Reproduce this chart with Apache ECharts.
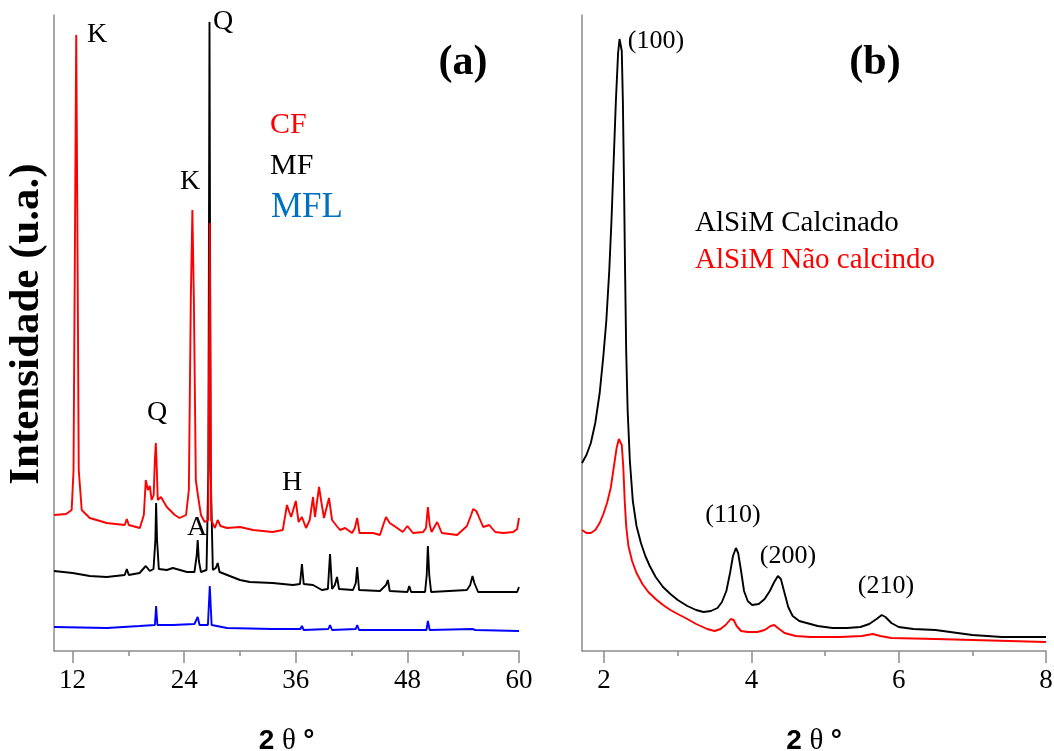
<!DOCTYPE html>
<html>
<head>
<meta charset="utf-8">
<script src="https://cdn.jsdelivr.net/npm/echarts@6/dist/echarts.min.js"></script>
<style>
  html, body { margin: 0; padding: 0; background: #fff; }
  #chart { width: 1054px; height: 751px; }
</style>
</head>
<body>
<div id="chart"></div>
<script>
// (a) DRX amplo: [2θ, intensidade u.a.]
const cfData = [[10.0,136],[11.3,137],[11.9,141],[12.1,181],[12.28,451],[12.39,616],[12.5,451],[12.66,181],[12.98,141],[13.84,133],[15.67,128],[17.6,126],[17.83,132],[18.04,126],[19.23,123],[19.66,136],[19.87,171],[20.09,161],[20.3,165],[20.5,151],[20.72,156],[20.84,190],[20.95,208],[21.06,180],[21.16,151],[21.5,154],[22.13,144],[22.99,136],[23.5,133],[24.2,136],[24.5,161],[24.71,351],[24.88,441],[25.04,351],[25.25,171],[25.47,156],[25.8,136],[26.2,129],[26.58,131],[26.75,428],[26.9,131],[27.3,123],[27.6,131],[27.9,125],[28.6,123],[30.0,124],[31.4,121],[33.5,119],[34.6,121],[35.05,146],[35.3,139],[35.5,134],[36.0,150],[36.3,129],[36.66,134],[37.1,123],[37.5,131],[37.85,154],[38.06,134],[38.5,164],[38.8,146],[39.03,133],[39.3,143],[39.57,153],[39.9,131],[40.4,125],[40.75,121],[41.3,123],[42.05,118],[42.35,123],[42.6,133],[42.85,118],[44.3,118],[45.05,116],[45.4,126],[45.7,134],[46.1,128],[46.9,123],[47.5,119],[48.0,125],[48.6,118],[49.7,119],[50.0,123],[50.2,144],[50.4,126],[50.6,119],[51.2,129],[51.7,118],[53.35,116],[54.4,125],[54.85,136],[55.07,142],[55.4,140],[55.6,136],[56.15,124],[56.8,126],[57.44,119],[58.3,118],[59.38,119],[59.8,122],[60.0,133]];
const mfData = [[10.0,80],[12.0,78],[13.85,75],[15.67,74],[17.6,76],[17.83,82],[18.04,76],[19.2,78],[19.87,85],[20.3,80],[20.7,82],[20.9,111],[20.98,148],[21.08,111],[21.27,82],[22.13,81],[22.78,83],[24.3,79],[25.1,79],[25.35,96],[25.45,111],[25.58,90],[25.8,79],[26.4,81],[26.6,181],[26.72,629],[26.84,181],[27.08,81],[27.4,83],[27.6,88],[27.8,79],[30.0,71],[31.06,69],[33.5,68],[35.7,66],[36.45,67],[36.66,87],[36.85,67],[37.85,66],[38.8,61],[39.45,62],[39.68,97],[39.9,62],[40.2,66],[40.43,74],[40.65,62],[42.15,61],[42.45,68],[42.6,84],[42.8,61],[45.05,60],[45.7,66],[45.9,71],[46.1,60],[48.0,59],[48.2,65],[48.4,59],[49.9,59],[50.08,76],[50.2,105],[50.35,76],[50.55,59],[54.4,61],[54.75,66],[55.0,75],[55.2,68],[55.35,69],[55.6,59],[58.7,59],[59.8,59],[60.0,64]];
const mflData = [[10.0,24],[15.7,23],[19.2,25],[20.85,26],[20.98,45],[21.12,26],[22.78,26],[25.1,27],[25.45,34],[25.65,26],[26.55,26],[26.75,65],[26.95,26],[28.6,23],[33.5,22],[36.5,22],[36.66,25],[36.85,21],[39.5,22],[39.68,26],[39.9,21],[42.45,22],[42.6,26],[42.8,21],[50.05,21],[50.2,30],[50.4,21],[55.0,22],[55.1,24],[55.3,21],[60.0,20]];

// (b) baixo ângulo
const calcData = [[1.70,188],[1.76,196],[1.82,208],[1.88,228],[1.94,258],[1.99,295],[2.03,330],[2.07,380],[2.1,430],[2.13,490],[2.16,550],[2.19,598],[2.21,612],[2.225,614],[2.24,600],[2.255,550],[2.27,470],[2.285,380],[2.3,300],[2.32,240],[2.35,190],[2.39,150],[2.44,125],[2.5,108],[2.56,95],[2.62,85],[2.7,74],[2.8,64],[2.9,57],[3.0,51],[3.13,45],[3.25,41],[3.35,39],[3.45,40],[3.54,43],[3.6,49],[3.66,60],[3.71,78],[3.75,95],[3.79,103],[3.82,98],[3.86,80],[3.9,60],[3.95,50],[4.01,46],[4.1,47],[4.18,52],[4.25,60],[4.31,69],[4.36,75],[4.4,72],[4.45,58],[4.5,44],[4.56,35],[4.65,30],[4.75,28],[4.9,25],[5.1,23],[5.3,23],[5.48,24],[5.6,27],[5.7,32],[5.77,36],[5.82,34],[5.9,28],[6.0,24],[6.2,22],[6.5,21],[6.7,19],[7.0,16],[7.4,14],[8.0,14]];
const naoCalcData = [[1.70,121],[1.76,118],[1.82,118],[1.88,121],[1.94,128],[1.99,137],[2.04,148],[2.09,163],[2.13,183],[2.17,203],[2.2,212],[2.22,213],[2.24,206],[2.26,185],[2.28,150],[2.3,125],[2.33,105],[2.38,90],[2.44,78],[2.52,67],[2.6,59],[2.7,52],[2.8,46],[2.9,41],[3.0,37],[3.13,32],[3.25,27],[3.4,22],[3.5,20],[3.58,22],[3.65,26],[3.72,32],[3.76,31],[3.8,25],[3.86,20],[3.95,19],[4.08,19],[4.18,21],[4.26,25],[4.31,26],[4.36,23],[4.45,18],[4.6,15],[4.8,14],[5.2,14],[5.5,15],[5.65,17],[5.75,15],[5.9,13],[6.5,12],[8.0,9]];

// ticks
const aMajorTicks = [12, 24, 36, 48, 60];
const aMinorTicks = [18, 30, 42, 54];
const bMajorTicks = [2, 4, 6, 8];
const bMinorTicks = [3, 5, 7];

const serif = 'Liberation Serif';
const axisGray = '#8c8c8c';

function majorAxis(grid, min, max, ticks) {
    return {
        type: 'value', gridIndex: grid, min: min, max: max, position: 'bottom',
        splitLine: { show: false },
        axisLine: { lineStyle: { color: axisGray, width: 1.5 } },
        axisTick: { customValues: ticks, length: 12, lineStyle: { color: axisGray, width: 1.5 } },
        axisLabel: { customValues: ticks, fontFamily: serif, fontSize: 27, color: '#000', margin: 16 },
        name: '{b|2\u00a0}{t|θ\u00a0}{b|°}', nameLocation: 'middle', nameGap: 76,
        nameTextStyle: {
            rich: {
                b: { fontFamily: 'Liberation Sans', fontWeight: 'bold', fontSize: 28, color: '#000' },
                t: { fontFamily: serif, fontSize: 29, color: '#000' }
            }
        }
    };
}
function minorAxis(grid, min, max, ticks) {
    return {
        type: 'value', gridIndex: grid, min: min, max: max, position: 'bottom',
        splitLine: { show: false },
        axisLine: { show: false },
        axisTick: { customValues: ticks, length: 5, lineStyle: { color: axisGray, width: 1.5 } },
        axisLabel: { show: false }
    };
}
function yAx(grid) {
    return {
        type: 'value', gridIndex: grid, min: 0, max: 636,
        splitLine: { show: false },
        axisLine: { show: true, lineStyle: { color: axisGray, width: 1.5 } },
        axisTick: { show: false },
        axisLabel: { show: false }
    };
}
function line(name, data, xi, yi, color) {
    return {
        name: name, type: 'line', data: data, xAxisIndex: xi, yAxisIndex: yi,
        showSymbol: false, symbol: 'none',
        lineStyle: { color: color, width: 1.9 }
    };
}
function txt(text, x, y, size, color, opts) {
    opts = opts || {};
    return {
        type: 'text', x: x, y: y, rotation: opts.rotation || 0,
        style: {
            text: text, fill: color,
            fontFamily: serif, fontSize: size, fontWeight: opts.bold ? 'bold' : 'normal',
            textAlign: opts.align || 'center', textVerticalAlign: 'middle'
        }
    };
}

const chart = echarts.init(document.getElementById('chart'));
chart.setOption({
    animation: false,
    grid: [
        { left: 54, right: 535, top: 15, bottom: 100, outerBoundsMode: 'none' },
        { left: 582, right: 8, top: 15, bottom: 100, outerBoundsMode: 'none' }
    ],
    xAxis: [
        majorAxis(0, 10, 60, aMajorTicks),
        minorAxis(0, 10, 60, aMinorTicks),
        majorAxis(1, 1.7, 8, bMajorTicks),
        minorAxis(1, 1.7, 8, bMinorTicks)
    ],
    yAxis: [yAx(0), yAx(1)],
    series: [
        line('MFL', mflData, 0, 0, '#0000ff'),
        line('MF', mfData, 0, 0, '#000000'),
        line('CF', cfData, 0, 0, '#ff0000'),
        line('AlSiM Não calcindo', naoCalcData, 2, 1, '#ff0000'),
        line('AlSiM Calcinado', calcData, 2, 1, '#000000')
    ],
    graphic: [
        txt('Intensidade (u.a.)', 27, 324, 43, '#000', { bold: true, rotation: Math.PI / 2 }),
        // painel (a)
        txt('K', 97, 35, 28, '#000'),
        txt('Q', 223, 22, 28, '#000'),
        txt('K', 190, 182, 28, '#000'),
        txt('Q', 157, 413, 28, '#000'),
        txt('A', 197, 528, 28, '#000'),
        txt('H', 292, 483, 28, '#000'),
        txt('(a)', 463, 63, 42, '#000', { bold: true }),
        txt('CF', 270, 125, 30, '#ff0000', { align: 'left' }),
        txt('MF', 270, 166, 30, '#000', { align: 'left' }),
        txt('MFL', 271, 208, 35, '#0070c0', { align: 'left' }),
        // painel (b)
        txt('(100)', 656, 41, 26, '#000'),
        txt('(b)', 875, 63, 42, '#000', { bold: true }),
        txt('AlSiM Calcinado', 695, 223, 29, '#000', { align: 'left' }),
        txt('AlSiM Não calcindo', 695, 260, 29, '#ff0000', { align: 'left' }),
        txt('(110)', 733, 515, 26, '#000'),
        txt('(200)', 788, 556, 26, '#000'),
        txt('(210)', 886, 586, 26, '#000')
    ]
});
</script>
</body>
</html>
